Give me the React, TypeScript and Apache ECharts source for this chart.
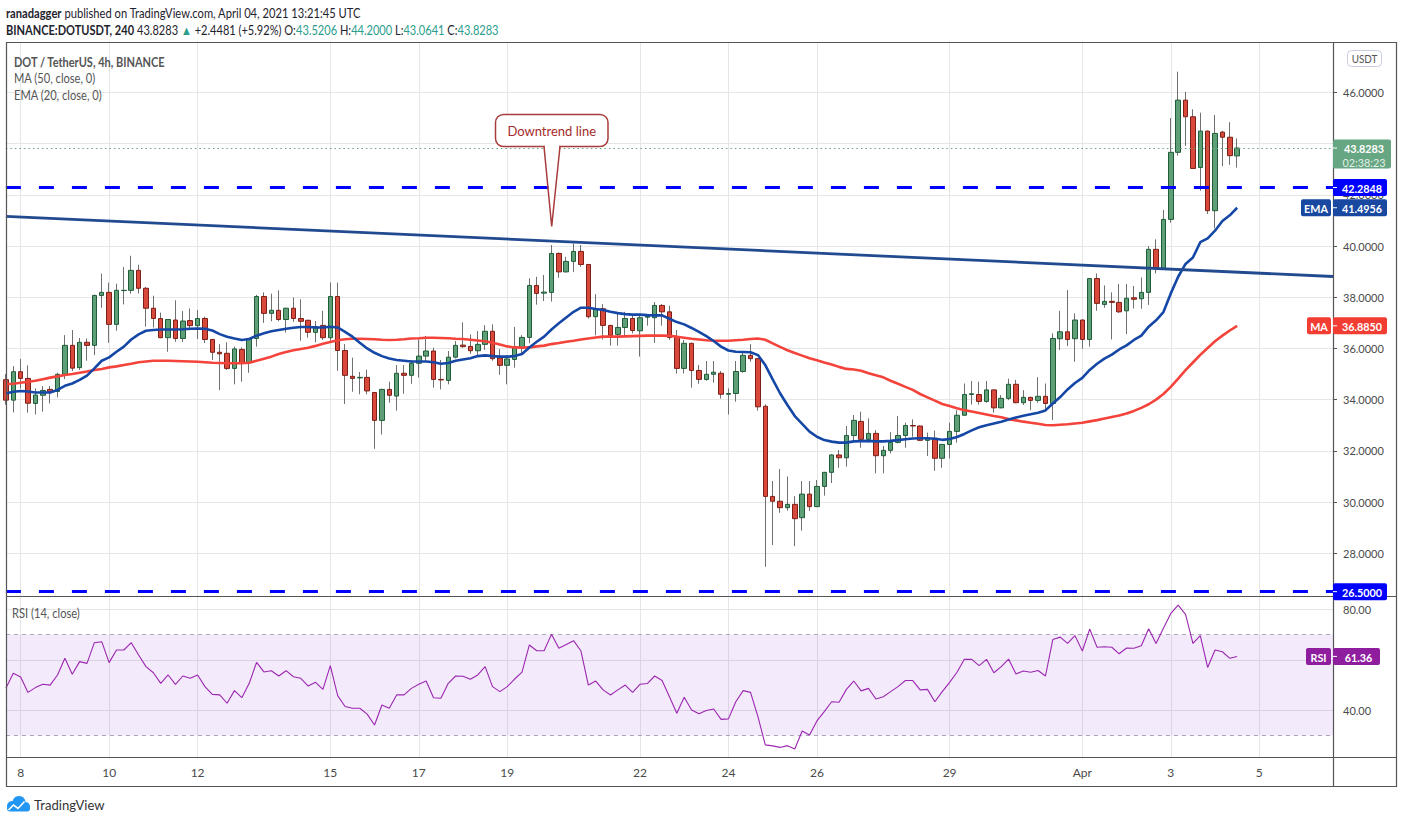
import React, { useEffect, useRef } from 'react';
import * as echarts from 'echarts';

const FONT = 'Lato, "Noto Sans", sans-serif';

// 4-hour bars; first slot is 2021-03-07 16:00 UTC (partly hidden at the left edge)
const FIRST_BAR_UTC = Date.UTC(2021, 2, 7, 16);
const BAR_HOURS = 4;
const SLOT_COUNT = 181;

const opens = [
  34.78,
  33.98, 35.09, 34.83, 33.85, 34.17, 34.40, 34.32, 34.99, 36.12, 35.25,
  36.24, 36.12, 38.07, 38.19, 36.94, 38.26, 38.27, 39.05, 38.35, 37.57,
  37.17, 36.42, 37.11, 36.39, 37.09, 36.89, 37.17, 36.35, 35.85, 35.81,
  35.22, 35.96, 35.44, 36.39, 38.03, 37.37, 37.49, 37.13, 37.57, 37.17,
  37.10, 36.63, 36.90, 36.42, 38.03, 35.92, 34.91, 34.85, 34.87, 34.28,
  33.19, 34.40, 34.14, 35.03, 34.95, 35.42, 35.70, 35.90, 34.79, 34.75,
  35.66, 36.13, 36.08, 35.91, 36.16, 36.67, 35.63, 35.34, 35.57, 36.04,
  36.43, 38.46, 38.16, 38.19, 39.71, 38.99, 39.40, 39.79, 39.28, 37.24,
  37.55, 36.90, 36.55, 36.82, 37.17, 36.69, 37.22, 37.20, 37.68, 37.43,
  36.43, 35.22, 36.20, 35.14, 34.79, 34.99, 35.03, 34.21, 34.24, 35.10,
  35.73, 35.60, 33.74, 30.22, 30.03, 29.78, 29.91, 29.39, 30.31, 29.82,
  30.61, 31.16, 31.84, 31.73, 32.60, 33.15, 32.45, 32.68, 31.81, 32.02,
  32.33, 32.60, 32.99, 32.97, 32.41, 32.49, 31.71, 32.25, 32.76, 33.39,
  34.20, 34.20, 33.93, 34.38, 33.68, 34.05, 34.60, 33.88, 34.09, 33.97,
  34.13, 33.85, 36.38, 36.65, 36.38, 37.11, 36.35, 38.73, 37.72, 37.84,
  37.80, 37.47, 37.98, 37.94, 38.19, 39.87, 39.13, 41.04, 43.66, 45.70,
  45.05, 43.07, 44.49, 41.38, 44.45, 44.25, 43.5206,
];

const highs = [
  35.00,
  35.31, 35.59, 35.34, 34.44, 34.53, 34.53, 35.05, 36.52, 36.72, 36.41,
  36.39, 38.10, 38.92, 38.57, 38.53, 39.18, 39.62, 39.27, 38.40, 38.06,
  37.40, 37.15, 37.88, 37.46, 37.56, 37.50, 37.24, 36.37, 36.17, 36.24,
  36.07, 36.04, 36.41, 38.09, 38.19, 38.14, 38.27, 37.59, 37.99, 37.92,
  37.12, 37.07, 37.47, 38.58, 38.57, 36.17, 35.64, 35.08, 35.17, 34.30,
  34.42, 34.70, 35.35, 35.35, 35.55, 36.35, 36.49, 36.03, 35.55, 35.90,
  36.29, 37.02, 36.55, 36.68, 36.91, 36.94, 35.98, 35.74, 36.84, 36.52,
  38.74, 38.80, 38.87, 40.04, 39.75, 39.58, 40.10, 40.04, 39.30, 38.12,
  37.73, 36.92, 37.40, 37.43, 37.30, 37.30, 37.30, 37.81, 37.73, 37.67,
  36.72, 36.33, 36.22, 35.35, 35.51, 35.51, 35.12, 34.44, 35.51, 35.87,
  36.17, 35.62, 33.82, 30.82, 31.29, 31.00, 30.23, 30.82, 30.82, 30.86,
  31.18, 31.86, 32.03, 32.97, 33.40, 33.53, 33.27, 32.81, 32.19, 32.73,
  33.36, 33.10, 33.23, 32.99, 32.71, 32.79, 32.27, 33.10, 33.59, 34.63,
  34.73, 34.70, 34.73, 34.40, 34.18, 34.82, 34.77, 34.37, 34.11, 34.88,
  34.63, 36.59, 37.47, 38.28, 37.37, 37.13, 38.75, 38.93, 38.46, 38.19,
  38.52, 38.52, 38.44, 38.77, 40.00, 40.26, 41.41, 45.00, 46.81, 46.02,
  45.34, 45.21, 44.51, 45.12, 44.50, 44.84, 44.20,
];

const lows = [
  33.80,
  33.50, 34.44, 33.49, 33.42, 33.53, 33.85, 34.09, 34.80, 35.12, 35.16,
  35.52, 35.74, 37.59, 36.22, 36.69, 37.72, 38.14, 38.15, 36.85, 36.82,
  36.40, 35.87, 36.26, 36.25, 36.71, 36.37, 36.21, 35.55, 34.37, 35.16,
  34.60, 34.70, 35.05, 36.07, 37.00, 37.06, 37.06, 36.62, 37.04, 36.30,
  36.42, 36.24, 36.33, 36.30, 35.13, 33.83, 34.31, 34.21, 34.21, 32.08,
  32.64, 33.88, 33.57, 34.23, 34.62, 34.86, 35.51, 34.47, 34.40, 34.60,
  35.61, 36.03, 35.79, 35.68, 35.94, 35.52, 34.97, 34.60, 35.25, 35.81,
  36.20, 37.71, 37.85, 37.83, 38.76, 38.97, 38.99, 39.19, 37.17, 36.51,
  36.35, 36.11, 36.11, 36.48, 36.59, 35.68, 36.89, 36.22, 36.89, 36.33,
  35.02, 35.02, 34.47, 34.62, 34.74, 34.66, 34.04, 33.42, 33.92, 35.05,
  35.48, 33.57, 27.47, 28.32, 29.58, 29.66, 28.28, 28.88, 29.65, 29.80,
  30.25, 30.74, 31.34, 31.38, 32.40, 32.12, 32.32, 31.12, 31.12, 31.90,
  32.29, 32.12, 32.55, 32.40, 31.80, 31.22, 31.34, 31.70, 32.32, 33.37,
  33.81, 33.81, 33.88, 33.49, 33.66, 33.98, 33.86, 33.79, 33.59, 33.88,
  33.62, 33.20, 35.94, 36.09, 35.48, 35.99, 36.07, 37.47, 37.59, 36.35,
  37.39, 36.56, 37.56, 37.55, 37.70, 38.93, 39.11, 40.91, 43.53, 43.91,
  43.01, 42.16, 41.25, 40.69, 43.12, 43.17, 43.0641,
];

const closes = [
  33.98,
  35.09, 34.83, 33.86, 34.18, 34.36, 34.31, 34.99, 36.12, 35.23, 36.24,
  36.12, 38.07, 38.19, 36.94, 38.27, 38.27, 39.05, 38.35, 37.57, 37.17,
  36.42, 37.13, 36.39, 37.07, 36.89, 37.17, 36.35, 35.85, 35.79, 35.22,
  35.98, 35.42, 36.39, 38.03, 37.37, 37.49, 37.13, 37.57, 37.17, 37.06,
  36.63, 36.85, 36.42, 38.03, 35.92, 34.95, 34.83, 34.87, 34.34, 33.19,
  34.40, 34.17, 35.03, 34.95, 35.42, 35.70, 35.90, 34.79, 34.77, 35.66,
  36.12, 36.07, 35.91, 36.16, 36.67, 35.60, 35.34, 35.59, 36.04, 36.43,
  38.46, 38.15, 38.20, 39.71, 38.99, 39.40, 39.79, 39.28, 37.24, 37.55,
  36.90, 36.51, 36.82, 37.17, 36.70, 37.20, 37.25, 37.68, 37.43, 36.43,
  35.22, 36.20, 35.14, 34.79, 34.99, 35.07, 34.21, 34.24, 35.10, 35.73,
  35.60, 33.72, 30.22, 30.03, 29.78, 29.91, 29.35, 30.31, 29.82, 30.61,
  31.16, 31.84, 31.73, 32.60, 33.19, 32.45, 32.68, 31.81, 32.02, 32.33,
  32.60, 32.99, 32.97, 32.41, 32.49, 31.71, 32.25, 32.76, 33.39, 34.20,
  34.23, 33.93, 34.38, 33.68, 34.05, 34.60, 33.88, 34.09, 33.97, 34.13,
  33.85, 36.39, 36.65, 36.35, 37.11, 36.35, 38.73, 37.76, 37.84, 37.80,
  37.43, 37.96, 37.92, 38.19, 39.87, 39.13, 41.04, 43.66, 45.70, 45.05,
  43.03, 44.49, 41.38, 44.40, 44.25, 43.53, 43.8283,
];

const ema20 = [
  34.24,
  34.31, 34.34, 34.32, 34.28, 34.28, 34.28, 34.38, 34.54, 34.63, 34.77,
  34.94, 35.22, 35.52, 35.65, 35.87, 36.07, 36.35, 36.55, 36.69, 36.72,
  36.74, 36.74, 36.74, 36.75, 36.77, 36.78, 36.77, 36.70, 36.56, 36.46,
  36.39, 36.33, 36.37, 36.50, 36.59, 36.67, 36.72, 36.77, 36.81, 36.84,
  36.84, 36.82, 36.82, 36.85, 36.82, 36.65, 36.46, 36.22, 36.00, 35.83,
  35.70, 35.61, 35.55, 35.52, 35.49, 35.49, 35.49, 35.46, 35.40, 35.43,
  35.52, 35.57, 35.62, 35.70, 35.73, 35.70, 35.68, 35.68, 35.70, 35.78,
  36.04, 36.26, 36.46, 36.74, 36.98, 37.21, 37.43, 37.59, 37.59, 37.54,
  37.50, 37.43, 37.38, 37.34, 37.32, 37.32, 37.30, 37.29, 37.29, 37.16,
  37.03, 36.94, 36.80, 36.65, 36.48, 36.29, 36.07, 35.92, 35.87, 35.86,
  35.85, 35.74, 35.35, 34.79, 34.25, 33.79, 33.36, 33.05, 32.75, 32.55,
  32.42, 32.36, 32.32, 32.32, 32.37, 32.38, 32.39, 32.37, 32.37, 32.39,
  32.42, 32.45, 32.48, 32.49, 32.49, 32.47, 32.43, 32.46, 32.54, 32.66,
  32.80, 32.92, 33.00, 33.07, 33.14, 33.22, 33.30, 33.37, 33.43, 33.49,
  33.58, 33.85, 34.10, 34.40, 34.65, 34.85, 35.16, 35.40, 35.60, 35.76,
  35.96, 36.12, 36.33, 36.50, 36.85, 37.10, 37.42, 38.15, 38.80, 39.30,
  39.55, 40.15, 40.30, 40.60, 40.98, 41.20, 41.4956,
];

const ma50 = [
  34.60,
  34.62, 34.66, 34.70, 34.74, 34.80, 34.86, 34.91, 34.96, 35.00, 35.05,
  35.10, 35.16, 35.20, 35.26, 35.30, 35.35, 35.40, 35.46, 35.49, 35.52,
  35.52, 35.52, 35.51, 35.50, 35.49, 35.48, 35.46, 35.44, 35.43, 35.42,
  35.42, 35.42, 35.44, 35.52, 35.60, 35.68, 35.78, 35.86, 35.93, 35.98,
  36.03, 36.10, 36.18, 36.25, 36.32, 36.36, 36.38, 36.38, 36.37, 36.36,
  36.34, 36.33, 36.34, 36.36, 36.39, 36.40, 36.42, 36.42, 36.41, 36.40,
  36.38, 36.37, 36.34, 36.31, 36.28, 36.22, 36.15, 36.08, 36.04, 36.03,
  36.04, 36.08, 36.11, 36.17, 36.21, 36.26, 36.30, 36.35, 36.39, 36.43,
  36.46, 36.46, 36.46, 36.47, 36.48, 36.49, 36.50, 36.50, 36.50, 36.49,
  36.46, 36.42, 36.38, 36.35, 36.32, 36.30, 36.30, 36.30, 36.32, 36.34,
  36.37, 36.39, 36.34, 36.20, 36.06, 35.93, 35.82, 35.72, 35.62, 35.54,
  35.45, 35.37, 35.28, 35.20, 35.18, 35.13, 35.03, 34.95, 34.87, 34.74,
  34.62, 34.50, 34.38, 34.22, 34.09, 33.96, 33.83, 33.75, 33.66, 33.59,
  33.54, 33.48, 33.42, 33.36, 33.31, 33.24, 33.19, 33.14, 33.10, 33.06,
  33.01, 33.00, 33.02, 33.04, 33.07, 33.10, 33.15, 33.20, 33.26, 33.32,
  33.38, 33.46, 33.56, 33.68, 33.82, 34.00, 34.22, 34.50, 34.82, 35.15,
  35.45, 35.75, 36.02, 36.28, 36.50, 36.70, 36.885,
];

const rsi14 = [
  48.7,
  54.65, 53.2, 47.1, 49.0, 50.3, 50.0, 54.0, 60.6, 54.3, 59.3,
  58.6, 66.8, 67.2, 58.9, 63.9, 63.9, 66.8, 61.9, 57.3, 54.9,
  50.7, 54.0, 50.3, 53.6, 52.7, 54.0, 49.4, 46.3, 46.1, 42.8,
  47.8, 45.0, 50.7, 59.0, 55.2, 55.7, 53.6, 55.7, 53.3, 52.7,
  49.6, 51.1, 48.3, 57.7, 45.8, 41.5, 40.8, 40.8, 38.5, 34.2,
  42.1, 40.8, 46.1, 46.1, 48.7, 50.3, 51.6, 45.0, 44.8, 50.7,
  53.6, 53.5, 52.3, 54.0, 57.3, 49.4, 47.4, 49.4, 52.4, 55.1,
  65.9, 63.6, 63.6, 70.1, 64.6, 66.1, 67.6, 63.5, 50.0, 51.6,
  48.1, 46.1, 48.1, 50.0, 47.1, 50.3, 50.6, 53.6, 51.8, 45.4,
  38.8, 45.2, 40.1, 38.6, 39.9, 40.5, 36.4, 36.6, 43.4, 47.8,
  47.1, 37.5, 26.3, 25.9, 25.3, 26.0, 24.7, 31.8, 30.2, 35.8,
  39.5, 43.4, 43.2, 48.3, 51.6, 47.7, 48.7, 44.5, 45.4, 47.4,
  49.4, 51.8, 51.8, 48.1, 48.3, 43.4, 47.4, 51.1, 55.1, 60.2,
  60.2, 57.7, 60.2, 54.9, 57.3, 60.3, 54.4, 55.6, 55.1, 55.8,
  53.6, 68.1, 69.0, 66.5, 69.6, 63.5, 72.2, 65.0, 65.2, 65.0,
  62.4, 64.7, 64.6, 65.6, 72.3, 66.5, 72.5, 78.4, 81.7, 78.0,
  66.5, 69.6, 57.0, 63.9, 63.2, 60.6, 61.36,
];

const tickDays = ['2021-03-08', '2021-03-10', '2021-03-12', '2021-03-15', '2021-03-17', '2021-03-19', '2021-03-22', '2021-03-24', '2021-03-26', '2021-03-29', '2021-04-01', '2021-04-03', '2021-04-05'];
const tickLabels = ['8', '10', '12', '15', '17', '19', '22', '24', '26', '29', 'Apr', '3', '5'];
const priceTicks = [28, 30, 32, 34, 36, 38, 40, 42, 44, 46];
const rsiLabelTicks = [40, 80];
const rsiGridTicks = [40, 60, 80];
const rsiBand = [30, 70];
const resistanceLevel = 42.2848;
const supportLevel = 26.5;
const trendEnds = [41.16, 38.81];
const changeText = '+2.4481 (+5.92%)';
const countdown = '02:38:23';

// layout
const GRID_LEFT = 5.9;
const AXIS_X = 1333;
const PRICE_TOP = 42;
const PRICE_BOTTOM = 596;
const RSI_BOTTOM = 757;
const PRICE_MIN = 26.33;
const PRICE_MAX = 47.97;
const RSI_MIN = 21.5;
const RSI_MAX = 85.3;

const UP_FILL = '#5f9f78';
const UP_BORDER = '#1f5c38';
const DOWN_FILL = '#d8493b';
const DOWN_BORDER = '#7c1f16';
const WICK = '#707070';
const MA_COLOR = '#f4433a';
const EMA_COLOR = '#1547a6';
const TREND_COLOR = '#214a8f';
const LEVEL_COLOR = '#0000ff';
const TEAL = '#2a9d8c';
const RSI_COLOR = '#9c27b0';
const TEXT = '#4a4a4a';

const categories: string[] = [];
for (let k = 0; k < SLOT_COUNT; k++) {
  categories.push(new Date(FIRST_BAR_UTC + k * BAR_HOURS * 3600000).toISOString().slice(0, 13));
}
const labelMap: Record<string, string> = {};
tickDays.forEach((d, i) => { labelMap[d + 'T00'] = tickLabels[i]; });
const tickIndexSet = new Set<number>(categories.map((c, i) => (labelMap[c] ? i : -1)).filter((i) => i >= 0));

function buildOption(): any {
  const wickData = opens.map((o, i) => [o, closes[i], lows[i], highs[i]]);
  const bodyData = opens.map((o, i) => [o, closes[i], Math.min(o, closes[i]), Math.max(o, closes[i])]);
  const gridWidth = AXIS_X - GRID_LEFT;
  const xBase = {
    type: 'category',
    data: categories,
    boundaryGap: false,
    axisLine: { show: false },
    axisTick: { show: false },
    splitLine: { show: true, interval: (idx: number) => tickIndexSet.has(idx), lineStyle: { color: '#e6e6e6', width: 1 } },
  };
  return {
    animation: false,
    backgroundColor: '#ffffff',
    grid: [
      { left: GRID_LEFT, top: PRICE_TOP, width: gridWidth, height: PRICE_BOTTOM - PRICE_TOP },
      { left: GRID_LEFT, top: PRICE_BOTTOM, width: gridWidth, height: RSI_BOTTOM - PRICE_BOTTOM },
    ],
    xAxis: [
      { ...xBase, gridIndex: 0, axisLabel: { show: false } },
      {
        ...xBase,
        gridIndex: 1,
        axisLabel: {
          show: true,
          interval: (idx: number) => tickIndexSet.has(idx),
          formatter: (v: string) => labelMap[v] || '',
          color: TEXT,
          fontSize: 12,
          fontFamily: FONT,
          margin: 9,
        },
      },
    ],
    yAxis: [
      {
        type: 'value',
        gridIndex: 0,
        position: 'right',
        min: PRICE_MIN,
        max: PRICE_MAX,
        axisLine: { show: false },
        axisTick: { show: true, length: 4, lineStyle: { color: '#555' }, customValues: priceTicks },
        axisLabel: { customValues: priceTicks, formatter: (v: number) => v.toFixed(4), margin: 10, fontSize: 11, color: TEXT, fontFamily: FONT },
        splitLine: { show: true, lineStyle: { color: '#e6e6e6', width: 1 } },
      },
      {
        type: 'value',
        gridIndex: 1,
        position: 'right',
        min: RSI_MIN,
        max: RSI_MAX,
        axisLine: { show: false },
        axisTick: { show: false, customValues: rsiGridTicks },
        axisLabel: { customValues: rsiLabelTicks, formatter: (v: number) => v.toFixed(2), margin: 10, fontSize: 11, color: TEXT, fontFamily: FONT },
        splitLine: { show: true, lineStyle: { color: '#e3e3e3', width: 1 } },
      },
    ],
    series: [
      {
        type: 'candlestick',
        name: 'wick',
        xAxisIndex: 0,
        yAxisIndex: 0,
        barWidth: 1,
        data: wickData,
        itemStyle: { color: WICK, color0: WICK, borderColor: WICK, borderColor0: WICK, borderWidth: 1 },
        z: 2,
      },
      {
        type: 'candlestick',
        name: 'DOTUSDT',
        xAxisIndex: 0,
        yAxisIndex: 0,
        barWidth: 5,
        data: bodyData,
        itemStyle: { color: UP_FILL, color0: DOWN_FILL, borderColor: UP_BORDER, borderColor0: DOWN_BORDER, borderWidth: 1 },
        z: 3,
      },
      {
        type: 'line',
        name: 'MA (50)',
        xAxisIndex: 0,
        yAxisIndex: 0,
        data: ma50,
        symbol: 'none',
        lineStyle: { color: MA_COLOR, width: 2.6 },
        z: 4,
      },
      {
        type: 'line',
        name: 'EMA (20)',
        xAxisIndex: 0,
        yAxisIndex: 0,
        data: ema20,
        symbol: 'none',
        lineStyle: { color: EMA_COLOR, width: 2.6 },
        z: 5,
      },
      {
        type: 'line',
        name: 'Downtrend line',
        xAxisIndex: 0,
        yAxisIndex: 0,
        data: [[0, trendEnds[0]], [SLOT_COUNT - 1, trendEnds[1]]],
        symbol: 'none',
        lineStyle: { color: TREND_COLOR, width: 2.8 },
        z: 6,
        markLine: {
          silent: true,
          symbol: ['none', 'none'],
          label: { show: false },
          animation: false,
          data: [
            { yAxis: resistanceLevel, lineStyle: { color: LEVEL_COLOR, width: 3, type: [15, 18] } },
            { yAxis: supportLevel, lineStyle: { color: LEVEL_COLOR, width: 3, type: [15, 18] } },
            { yAxis: closes[closes.length - 1], lineStyle: { color: '#5ea57f', width: 1, type: [1.5, 3] } },
          ],
        },
      },
      {
        type: 'line',
        name: 'RSI (14)',
        xAxisIndex: 1,
        yAxisIndex: 1,
        data: rsi14,
        symbol: 'none',
        lineStyle: { color: RSI_COLOR, width: 1.1 },
        z: 5,
        markArea: {
          silent: true,
          itemStyle: { color: 'rgba(149, 60, 230, 0.11)' },
          data: [[{ yAxis: rsiBand[0] }, { yAxis: rsiBand[1] }]],
        },
        markLine: {
          silent: true,
          symbol: ['none', 'none'],
          label: { show: false },
          lineStyle: { color: '#a9a6b3', width: 1, type: [4, 4] },
          data: [{ yAxis: rsiBand[0] }, { yAxis: rsiBand[1] }],
        },
      },
    ],
  };
}

function txt(x: number, y: number, text: string, opts: any = {}): any {
  return {
    type: 'text',
    x,
    y,
    scaleX: opts.sx || 1,
    z: 110,
    style: {
      text,
      fill: opts.fill || TEXT,
      fontSize: opts.fontSize || 12,
      fontFamily: FONT,
      fontWeight: opts.fontWeight || 'normal',
      align: opts.align || 'left',
      verticalAlign: 'middle',
      rich: opts.rich,
    },
  };
}

function valueBox(x: number, y: number, w: number, text: string, bg: string, tick = true): any[] {
  const els: any[] = [
    { type: 'rect', z: 105, shape: { x, y: y - 8.5, width: w, height: 17, r: 2 }, style: { fill: bg } },
    txt(x + w / 2 + (tick ? 2 : 0), y + 0.5, text, { fill: '#ffffff', fontWeight: 'bold', align: 'center', fontSize: 12, sx: 0.9 }),
  ];
  if (tick) {
    els.push({ type: 'line', z: 106, shape: { x1: x, y1: y, x2: x + 4, y2: y }, style: { stroke: '#ffffff', lineWidth: 1 } });
  }
  return els;
}

function buildGraphics(chart: any): any[] {
  const yP = (v: number) => chart.convertToPixel({ yAxisIndex: 0 }, v) as number;
  const yR = (v: number) => chart.convertToPixel({ yAxisIndex: 1 }, v) as number;
  const last = closes.length - 1;
  const els: any[] = [];

  // header
  els.push(txt(6, 13, '{b|ranadagger} published on TradingView.com, April 04, 2021 13:21:45 UTC', {
    fill: '#1e222d', fontSize: 13, sx: 0.86,
    rich: { b: { fontWeight: 'bold', fontSize: 13, fontFamily: FONT, fill: '#1e222d' } },
  }));
  els.push(txt(6, 30,
    `{b|BINANCE:DOTUSDT, 240} ${closes[last].toFixed(4)} {t|▲} ${changeText} O:{t|${opens[last].toFixed(4)}} H:{t|${highs[last].toFixed(4)}} L:{t|${lows[last].toFixed(4)}} C:{t|${closes[last].toFixed(4)}}`,
    {
      fill: '#1e222d', fontSize: 13, sx: 0.85,
      rich: {
        b: { fontWeight: 'bold', fontSize: 13, fontFamily: FONT, fill: '#1e222d' },
        t: { fontSize: 13, fontFamily: FONT, fill: TEAL },
      },
    }));

  // pane legends
  els.push(txt(14, 62, 'DOT / TetherUS, 4h, BINANCE', { fontWeight: 'bold', fill: '#555', fontSize: 12.5, sx: 0.88 }));
  els.push(txt(14, 78.5, 'MA (50, close, 0)', { fill: '#555', fontSize: 12.5, sx: 0.89 }));
  els.push(txt(14, 95, 'EMA (20, close, 0)', { fill: '#555', fontSize: 12.5, sx: 0.89 }));
  els.push(txt(12, 613, 'RSI (14, close)', { fill: '#555', fontSize: 12.5, sx: 0.89 }));

  // frame and separators
  els.push({ type: 'rect', z: 100, shape: { x: 6.5, y: 42.5, width: 1390, height: 744 }, style: { fill: 'none', stroke: '#555', lineWidth: 1.2 } });
  els.push({ type: 'line', z: 100, shape: { x1: AXIS_X + 0.5, y1: 42.5, x2: AXIS_X + 0.5, y2: 786.5 }, style: { stroke: '#555', lineWidth: 1.2 } });
  els.push({ type: 'line', z: 100, shape: { x1: 6.5, y1: PRICE_BOTTOM + 0.5, x2: 1396.5, y2: PRICE_BOTTOM + 0.5 }, style: { stroke: '#555', lineWidth: 1.2 } });
  els.push({ type: 'line', z: 100, shape: { x1: 6.5, y1: RSI_BOTTOM + 0.5, x2: 1396.5, y2: RSI_BOTTOM + 0.5 }, style: { stroke: '#555', lineWidth: 1.2 } });

  // USDT badge
  els.push({ type: 'rect', z: 105, shape: { x: 1347.5, y: 50.5, width: 34, height: 16, r: 4 }, style: { fill: '#fff', stroke: '#c9cde0', lineWidth: 1 } });
  els.push(txt(1364.5, 59, 'USDT', { fill: '#555', fontSize: 11, align: 'center', sx: 0.9 }));

  // callout
  const cx = 551.7;
  els.push({ type: 'rect', z: 105, shape: { x: 495.5, y: 114.5, width: 112.5, height: 32, r: 8 }, style: { fill: '#ffffff', stroke: '#a83c3c', lineWidth: 1.5 } });
  els.push({ type: 'polygon', z: 106, shape: { points: [[544.8, 144.5], [559.2, 144.5], [cx, 225]] }, style: { fill: '#ffffff' } });
  els.push({ type: 'polyline', z: 107, shape: { points: [[544, 146.5], [cx, 226.5], [560, 146.5]] }, style: { stroke: '#a83c3c', lineWidth: 1.5, fill: 'none' } });
  els.push(txt(551.7, 130.5, 'Downtrend line', { fill: '#a52a2a', fontSize: 13, align: 'center' }));

  // right-side value labels
  const yc = yP(closes[last]);
  els.push({ type: 'rect', z: 105, shape: { x: AXIS_X, y: yc - 8.5, width: 58, height: 29, r: 2 }, style: { fill: '#67a682' } });
  els.push({ type: 'line', z: 106, shape: { x1: AXIS_X, y1: yc, x2: AXIS_X + 4, y2: yc }, style: { stroke: '#ffffff', lineWidth: 1 } });
  els.push(txt(AXIS_X + 31, yc + 0.5, closes[last].toFixed(4), { fill: '#ffffff', fontWeight: 'bold', align: 'center', fontSize: 12, sx: 0.9 }));
  els.push(txt(AXIS_X + 31, yc + 14, countdown, { fill: 'rgba(255,255,255,0.85)', align: 'center', fontSize: 12, sx: 0.9 }));

  els.push(...valueBox(AXIS_X, yP(resistanceLevel), 54, resistanceLevel.toFixed(4), LEVEL_COLOR));
  els.push(...valueBox(AXIS_X, yP(supportLevel), 54, supportLevel.toFixed(4), LEVEL_COLOR));

  const yE = yP(ema20[last]);
  els.push(...valueBox(AXIS_X, yE, 54, ema20[last].toFixed(4), '#1848a0'));
  els.push(...valueBox(AXIS_X - 32, yE, 30, 'EMA', '#1848a0', false));

  const yM = yP(ma50[last]);
  els.push(...valueBox(AXIS_X, yM, 54, ma50[last].toFixed(4), '#f23d33'));
  els.push(...valueBox(AXIS_X - 26, yM, 24, 'MA', '#f23d33', false));

  const yRs = yR(rsi14[last]);
  els.push(...valueBox(AXIS_X, yRs, 47, rsi14[last].toFixed(2), '#8e1e9e'));
  els.push(...valueBox(AXIS_X - 27, yRs, 25, 'RSI', '#8e1e9e', false));

  // TradingView logo
  els.push({
    type: 'group', z: 110, children: [
      { type: 'circle', shape: { cx: 12, cy: 806, r: 5 }, style: { fill: '#2196f3' } },
      { type: 'circle', shape: { cx: 19, cy: 802.5, r: 6.5 }, style: { fill: '#2196f3' } },
      { type: 'circle', shape: { cx: 25.5, cy: 806.5, r: 4.5 }, style: { fill: '#2196f3' } },
      { type: 'rect', shape: { x: 7, y: 805, width: 23, height: 6.5, r: 3 }, style: { fill: '#2196f3' } },
      { type: 'polyline', shape: { points: [[8.5, 810], [13.5, 805], [18, 808.5], [24.5, 801.5]] }, style: { stroke: '#ffffff', lineWidth: 1.6, fill: 'none' } },
    ],
  });
  els.push(txt(34, 805, 'TradingView', { fill: '#333', fontSize: 13.5, sx: 0.97 }));
  return els;
}

export default function App() {
  const ref = useRef<HTMLDivElement>(null);
  useEffect(() => {
    const el = ref.current;
    if (!el) return;
    const chart = echarts.init(el, undefined, { renderer: 'svg' });
    chart.setOption(buildOption());
    chart.setOption({ graphic: { elements: buildGraphics(chart) } });
    return () => chart.dispose();
  }, []);
  return (
    <div
      ref={ref}
      style={{ position: 'fixed', left: 0, top: 0, width: 1402, height: 823, background: '#ffffff' }}
    />
  );
}
